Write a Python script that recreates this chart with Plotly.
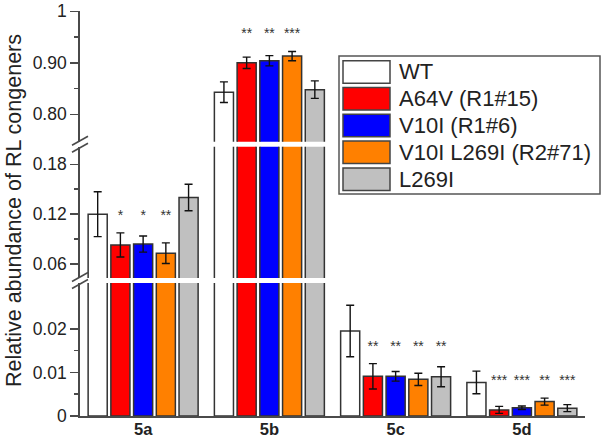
import plotly.graph_objects as go

# ---------------- data ----------------
groups = ["5a", "5b", "5c", "5d"]
series = ["WT", "A64V (R1#15)", "V10I (R1#6)", "V10I L269I (R2#71)", "L269I"]
colors = ["#FFFFFF", "#FF0000", "#0000FF", "#FF8000", "#C0C0C0"]

wt_vals = [0.120, 0.843, 0.0195, 0.0077]
a64v_vals = [0.083, 0.900, 0.0091, 0.0014]
v10i_vals = [0.084, 0.904, 0.0091, 0.0019]
v10il269i_vals = [0.073, 0.913, 0.0084, 0.0033]
l269i_vals = [0.140, 0.848, 0.0090, 0.0018]

wt_err = [0.027, 0.020, 0.0059, 0.0026]
a64v_err = [0.0145, 0.011, 0.0029, 0.0008]
v10i_err = [0.0097, 0.010, 0.0011, 0.0004]
v10il269i_err = [0.0124, 0.009, 0.0014, 0.0008]
l269i_err = [0.016, 0.017, 0.0023, 0.0008]

values = [wt_vals, a64v_vals, v10i_vals, v10il269i_vals, l269i_vals]
errors = [wt_err, a64v_err, v10i_err, v10il269i_err, l269i_err]

# significance marks per group (one entry per series)
stars_5a = ["", "*", "*", "**", ""]
stars_5b = ["", "**", "**", "***", ""]
stars_5c = ["", "**", "**", "**", "**"]
stars_5d = ["", "***", "***", "**", "***"]
stars = [stars_5a, stars_5b, stars_5c, stars_5d]
star_heights = [0.1168, 0.955, 0.0156, 0.0080]
star_axes = ["y2", "y3", "y", "y"]

# broken axis segments (value ranges, ticks)
seg_bottom = dict(range=[0.0, 0.0305],
                  tickvals=[0.0, 0.01, 0.02], ticktext=["0", "0.01", "0.02"],
                  minor=[0.005, 0.015])
seg_middle = dict(range=[0.0432, 0.2011],
                  tickvals=[0.06, 0.12, 0.18], ticktext=["0.06", "0.12", "0.18"],
                  minor=[0.09, 0.15])
seg_top = dict(range=[0.747, 1.0005],
               tickvals=[0.8, 0.9, 1.0], ticktext=["0.80", "0.90", "1"],
               minor=[0.85, 0.95])

# ---------------- layout geometry (pixels) ----------------
W, HT = 602, 440
L, R, T, B = 80, 585, 11, 416        # plot-area edges
H = B - T


def fy(px):
    return (B - px) / H


def fx(px):
    return (px - L) / (R - L)


seg_bottom["domain"] = [0.0, fy(283)]
seg_middle["domain"] = [fy(278), fy(146.7)]
seg_top["domain"] = [fy(141.7), 1.0]

FONT = "Arial, Liberation Sans, sans-serif"
AXC = "#4a4a4a"
TXT = "#222222"
bargap = 0.10
bargroupgap = 0.16

fig = go.Figure()
xidx = list(range(len(groups)))
for yname in ["y", "y2", "y3"]:
    for k, name in enumerate(series):
        fig.add_trace(go.Bar(
            x=xidx, y=values[k], name=name, xaxis="x", yaxis=yname,
            marker=dict(color=colors[k], line=dict(color="#333333", width=1.5)),
            error_y=dict(type="data", array=errors[k], color="#111111",
                         thickness=1.4, width=4),
            showlegend=False,
        ))

# star positions follow plotly's grouped-bar layout
nser = len(series)
slot = (1 - bargap) / nser
for g, marks in enumerate(stars):
    xs, ys, ts = [], [], []
    for k, m in enumerate(marks):
        if m:
            xs.append(g - (1 - bargap) / 2 + (k + 0.5) * slot)
            ys.append(star_heights[g])
            ts.append(m)
    fig.add_trace(go.Scatter(
        x=xs, y=ys, text=ts, mode="text", xaxis="x", yaxis=star_axes[g],
        textposition="middle center",
        textfont=dict(size=14, color="#333333", family=FONT),
        showlegend=False, hoverinfo="skip",
    ))


def yax(seg):
    return dict(
        domain=seg["domain"], range=seg["range"], anchor="x",
        tickmode="array", tickvals=seg["tickvals"], ticktext=seg["ticktext"],
        ticks="outside", ticklen=8, tickwidth=1.5, tickcolor=AXC,
        minor=dict(tickvals=seg["minor"], ticks="outside", ticklen=4,
                   tickwidth=1.5, tickcolor=AXC),
        showline=True, linecolor=AXC, linewidth=1.8,
        showgrid=False, zeroline=False, automargin=False,
        ticklabeloverflow="allow",
        tickfont=dict(size=17.5, color=TXT, family=FONT),
        fixedrange=True,
    )


fig.update_layout(
    width=W, height=HT,
    margin=dict(l=L, r=W - R, t=T, b=HT - B),
    paper_bgcolor="white", plot_bgcolor="white",
    barmode="group", bargap=bargap, bargroupgap=bargroupgap,
    showlegend=False,
    font=dict(family=FONT, color=TXT),
    xaxis=dict(
        domain=[0, 1], range=[-0.5, len(groups) - 0.5], anchor="y",
        tickmode="array", tickvals=xidx, ticktext=groups,
        tickfont=dict(size=16.5, color=TXT, family=FONT, weight="bold"),
        ticks="", showline=True, linecolor=AXC, linewidth=1.8,
        showgrid=False, zeroline=False, automargin=False,
        ticklabelstandoff=-3, ticklabeloverflow="allow", fixedrange=True,
    ),
    yaxis=yax(seg_bottom),
    yaxis2=yax(seg_middle),
    yaxis3=yax(seg_top),
)

# y-axis title
fig.add_annotation(
    text="Relative abundance of RL congeners", textangle=-90,
    xref="paper", yref="paper", x=0, y=fy(211), xshift=-66,
    xanchor="center", yanchor="middle", showarrow=False,
    font=dict(size=21.5, color=TXT, family=FONT),
)

# axis break marks
gap_centers = [(seg_bottom["domain"][1] + seg_middle["domain"][0]) / 2,
               (seg_middle["domain"][1] + seg_top["domain"][0]) / 2]
for gc in gap_centers:
    for d in (-3.5, 3.5):
        fig.add_shape(
            type="line", xref="paper", yref="paper",
            xsizemode="pixel", ysizemode="pixel", xanchor=0, yanchor=gc,
            x0=-8, x1=8, y0=d - 4.5, y1=d + 4.5,
            line=dict(color=AXC, width=1.6),
        )

# legend (drawn as box + swatches + text)
leg_top_px, leg_pitch_px, sw_h_px = 60.7, 26.8, 22.5
fig.add_shape(type="rect", xref="paper", yref="paper",
              x0=fx(339), x1=fx(600), y0=fy(194), y1=fy(56),
              line=dict(color="#555555", width=1.5), fillcolor="white",
              layer="above")
for k, name in enumerate(series):
    top = leg_top_px + k * leg_pitch_px
    fig.add_shape(type="rect", xref="paper", yref="paper",
                  x0=fx(343), x1=fx(390),
                  y0=fy(top + sw_h_px), y1=fy(top),
                  line=dict(color="#444444", width=1.5), fillcolor=colors[k],
                  layer="above")
    fig.add_annotation(
        text=name, xref="paper", yref="paper", x=fx(396.5),
        y=fy(top + sw_h_px / 2), xanchor="left", yanchor="middle",
        showarrow=False, font=dict(size=22, color=TXT, family=FONT),
    )

fig.write_html(
    "out.html",
    config={"displayModeBar": False, "staticPlot": True},
    post_script="document.body.style.margin='0';document.body.style.overflow='hidden';",
)
